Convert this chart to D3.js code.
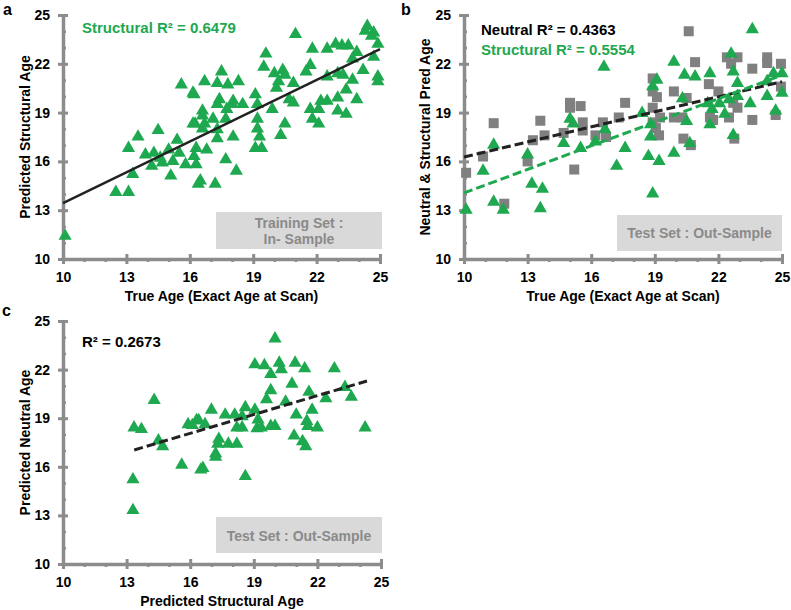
<!DOCTYPE html>
<html><head><meta charset="utf-8">
<script src="https://cdn.jsdelivr.net/npm/d3@7"></script>
<style>
body{margin:0;background:#fff;}
text{font-family:"Liberation Sans",Arial,sans-serif;font-weight:bold;}
</style></head>
<body><svg id="c" width="791" height="610"></svg>
<script>
// ---------- DATA ----------
const majorTicks = [10,13,16,19,22,25];
const minorTicks = [11,12,14,15,17,18,20,21,23,24];

// Panel a: training set (true age vs predicted structural age)
const aTrue = [10.1,12.5,13.1,13.3,14.2,14.7,15.1,15.2,15.8,16.3,16.4,15.5,13.9,14.3,16.2,13.1,13.55,14.5,15.4,15.6,16.2,16.25,15.0,14.6,
 21.0,24.4,24.7,24.3,24.6,24.9,24.7,24.9,24.9,24.2,23.7,23.9,23.5,23.2,22.9,22.5,21.8,21.7,21.5,22.5,23.0,23.25,23.7,23.4,23.9,23.0,22.5,22.2,22.1,21.7,21.8,22.1,23.0,23.4,
 19.6,19.5,20.0,20.4,20.5,20.2,20.1,20.9,20.7,20.9,19.9,19.1,19.2,19.2,18.5,18.05,17.5,16.7,17.3,17.8,18.3,16.15,17.4,17.3,18.0,17.75,16.6,16.6,17.1,17.7,16.7,16.15,16.6,17.3,17.3,18.05,19.2,19.3,20.3,20.5,19.1,19.4,16.3,16.8,17.7,18.2,16.5,17.2];
const aPred = [11.5,14.2,14.2,15.3,15.8,16.0,15.2,16.1,15.9,15.9,14.7,16.6,16.5,16.6,16.4,16.9,17.6,18.0,17.4,20.8,20.2,18.4,16.8,16.3,
 23.9,24.4,24.0,24.1,23.8,23.3,22.5,21.3,21.0,21.7,22.4,22.8,23.2,23.2,23.3,23.0,23.0,22.0,21.6,21.3,21.5,21.4,21.1,20.5,19.9,20.0,19.8,19.8,19.3,19.3,18.7,18.4,19.2,19.0,
 22.7,21.9,21.5,21.7,21.4,21.0,20.6,20.9,19.9,19.7,19.3,20.2,19.6,18.7,19.6,19.8,21.6,21.0,20.9,20.8,21.0,20.3,19.9,19.6,19.6,19.3,19.2,18.9,18.7,18.7,18.4,18.4,18.1,18.05,17.5,17.6,18.1,17.6,17.7,18.4,16.9,16.9,16.9,16.8,16.2,15.5,14.9,14.7];
const aFitX = [10,25];
const aFitY = [13.44,22.9];

// Panel b: test set, neutral (squares) and structural (triangles)
const bNeuTrue = [11.4,10.9,13.25,13.6,13.8,15.0,15.0,15.5,15.6,14.7,15.6,10.1,11.9,13.0,15.2,20.6,20.9,22.4,22.9,22.6,23.6,24.3,24.3,24.95,21.55,22.0,24.95,22.7,22.9,22.5,21.6,21.75,23.6,24.7,22.75,20.7,20.35,19.9,20.3,19.9,20.5,18.9,18.9,19.1,18.9,19.25,18.9,19.05,19.2,17.6,16.55,17.3,16.2,16.7];
const bNeuPred = [18.35,16.3,17.3,18.5,17.6,19.6,19.3,19.4,18.4,17.75,17.9,15.3,13.4,16.0,15.5,24.0,22.1,22.4,22.4,22.0,21.7,22.4,22.05,22.0,20.75,20.3,20.6,19.6,19.3,18.7,18.7,18.55,18.55,18.85,17.4,17.0,17.4,18.7,18.7,20.3,19.9,21.1,20.3,19.95,19.3,18.7,18.4,18.05,17.6,19.6,18.4,18.7,17.6,17.5];
const bStrTrue = [11.4,13.0,15.0,15.15,14.7,15.5,10.1,10.9,11.4,11.85,13.2,13.7,13.6,23.6,16.6,19.9,20.4,20.9,21.6,22.6,22.7,24.6,25.0,22.9,24.3,25.0,24.3,22.9,22.5,22.05,21.5,21.7,23.5,22.3,21.6,24.7,22.7,20.5,20.65,19.9,20.3,19.1,18.9,18.4,18.8,18.8,18.7,19.2,16.65,16.2,17.6,17.2,18.9];
const bStrPred = [17.1,16.5,18.7,18.4,17.2,16.9,13.1,15.5,13.6,13.1,14.7,14.4,13.2,24.2,21.9,22.2,21.4,21.3,21.5,22.7,21.6,21.5,21.5,20.9,21.0,20.3,20.1,20.1,19.9,19.65,19.65,19.3,19.65,19.0,18.35,19.2,17.7,18.55,17.2,16.6,19.95,21.1,20.7,19.05,18.35,17.6,16.4,16.1,18.05,17.3,16.9,15.8,14.1];
const bNeuFitX = [10,25], bNeuFitY = [16.27,20.9];
const bStrFitX = [10,25], bStrFitY = [14.06,21.3];

// Panel c: predicted structural vs predicted neutral
const cStr = [14.3,13.35,13.7,14.5,14.7,15.9,16.3,13.3,13.3,15.6,16.5,20.0,19.05,19.5,20.2,20.3,19.8,20.95,21.4,22.8,20.8,19.8,19.6,20.5,21.6,23.3,23.6,22.4,21.75,21.0,21.5,21.55,22.0,24.25,20.0,19.8,19.05,19.2,19.15,19.35,18.6,18.1,18.45,18.2,18.45,17.65,17.0,16.4,16.7,16.1,17.35,17.3,17.8,18.2,17.2,17.2,20.9,21.3,21.45,16.6,18.6];
const cNeu = [20.2,18.5,18.4,17.7,17.35,18.7,18.95,15.3,13.4,16.2,15.9,24.0,22.4,22.35,22.5,22.1,21.8,22.5,22.15,22.15,21.2,20.8,20.25,20.1,20.7,21.0,20.4,20.3,19.6,19.3,18.9,18.6,18.5,18.5,18.6,18.6,19.6,19.0,18.45,18.5,19.75,19.3,19.2,18.5,18.5,19.3,19.6,18.95,18.7,18.65,17.8,17.5,17.5,17.5,16.9,16.7,18.0,17.65,17.35,16.0,15.5];
const cFitX = [13.36,24.34], cFitY = [17.04,21.3];

// ---------- DRAW ----------
const GREEN = "#1ea84f", GRAY = "#808080", AXIS = "#8c8c8c";
const svg = d3.select("#c");
const tri = "M0,-6.2L6.6,5.2L-6.6,5.2Z";

function panel(opt){
  const x = d3.scaleLinear().domain([10,25]).range(opt.xr);
  const y = d3.scaleLinear().domain([10,25]).range(opt.yr);
  const g = svg.append("g");
  const mx = g.append("g").attr("transform",`translate(0,${opt.yr[0]})`)
    .call(d3.axisBottom(x).tickValues(minorTicks).tickSize(3).tickFormat(""));
  const my = g.append("g").attr("transform",`translate(${opt.xr[0]},0)`)
    .call(d3.axisRight(y).tickValues(minorTicks).tickSize(3).tickFormat(""));
  [mx,my].forEach(s=>{s.select(".domain").remove(); s.selectAll("line").attr("stroke",AXIS).attr("stroke-width",2.5);});
  const ax = g.append("g").attr("transform",`translate(0,${opt.yr[0]})`)
    .call(d3.axisBottom(x).tickValues(majorTicks).tickSize(5).tickSizeOuter(0).tickPadding(8));
  const ay = g.append("g").attr("transform",`translate(${opt.xr[0]},0)`)
    .call(d3.axisLeft(y).tickValues(majorTicks).tickSize(5).tickSizeOuter(0).tickPadding(8));
  ax.selectAll(".tick line").attr("y1",-5);
  ay.selectAll(".tick line").attr("x1",5);
  [ax,ay].forEach(s=>{
    s.select(".domain").attr("stroke",AXIS).attr("stroke-width",3.5);
    s.selectAll(".tick line").attr("stroke",AXIS).attr("stroke-width",3);
    s.selectAll("text").attr("fill","#000").style("font-size","14px").style("font-weight","bold")
      .style("font-family","'Liberation Sans',Arial,sans-serif");
  });
  g.append("text").attr("x",(opt.xr[0]+opt.xr[1])/2).attr("y",opt.yr[0]+42)
    .attr("text-anchor","middle").style("font-size","14px").text(opt.xTitle);
  g.append("text").attr("transform",`translate(${opt.ytx},${(opt.yr[0]+opt.yr[1])/2}) rotate(-90)`)
    .attr("text-anchor","middle").style("font-size","14px").text(opt.yTitle);
  g.append("rect").attr("x",opt.box[0]).attr("y",opt.box[1]).attr("width",opt.box[2]).attr("height",opt.box[3]).attr("fill","#d9d9d9");
  opt.boxText.forEach((t,i)=>{
    g.append("text").attr("x",opt.box[0]+opt.box[2]/2).attr("y",opt.boxTy[i]).attr("text-anchor","middle")
      .attr("fill","#8a8a8a").style("font-size","14px").text(t);
  });
  g.append("text").attr("x",opt.lab[0]).attr("y",opt.lab[1]).style("font-size","16px").text(opt.label);
  return {g,x,y};
}

function tris(p, xs, ys){
  p.g.append("g").selectAll("path").data(xs.map((v,i)=>[v,ys[i]])).join("path")
    .attr("d",tri).attr("transform",d=>`translate(${p.x(d[0])},${p.y(d[1])})`)
    .attr("fill",GREEN);
}
function squares(p, xs, ys){
  p.g.append("g").selectAll("rect").data(xs.map((v,i)=>[v,ys[i]])).join("rect")
    .attr("x",d=>p.x(d[0])-5).attr("y",d=>p.y(d[1])-5).attr("width",10).attr("height",10).attr("fill",GRAY);
}
function fit(p, xs, ys, color, dash){
  const line = d3.line().x(d=>p.x(d[0])).y(d=>p.y(d[1]));
  p.g.append("path").attr("d",line(xs.map((v,i)=>[v,ys[i]]))).attr("stroke",color)
    .attr("stroke-width",dash?3:2.5).attr("fill","none").attr("stroke-dasharray",dash||null);
}

// Panel a
const pa = panel({xr:[63,380], yr:[259,15], xTitle:"True Age (Exact Age at Scan)", yTitle:"Predicted Structural Age", ytx:30,
  box:[216,212,166,37], boxText:["Training Set :","In- Sample"], boxTy:[228,244], lab:[3,15], label:"a"});
tris(pa, aTrue, aPred);
fit(pa, aFitX, aFitY, "#222", null);
pa.g.append("text").attr("x",82).attr("y",33).attr("fill",GREEN).style("font-size","15px").text("Structural R² = 0.6479");

// Panel b
const pb = panel({xr:[464,782], yr:[259,15], xTitle:"True Age (Exact Age at Scan)", yTitle:"Neutral & Structural Pred Age", ytx:430,
  box:[617,215,165,36], boxText:["Test Set : Out-Sample"], boxTy:[238], lab:[401,15], label:"b"});
squares(pb, bNeuTrue, bNeuPred);
tris(pb, bStrTrue, bStrPred);
fit(pb, bNeuFitX, bNeuFitY, "#222", "9,4");
fit(pb, bStrFitX, bStrFitY, GREEN, "9,4");
pb.g.append("text").attr("x",481).attr("y",35).attr("fill","#000").style("font-size","15px").text("Neutral R² = 0.4363");
pb.g.append("text").attr("x",481).attr("y",55).attr("fill",GREEN).style("font-size","15px").text("Structural R² = 0.5554");

// Panel c
const pc = panel({xr:[63,381], yr:[564,321], xTitle:"Predicted Structural Age", yTitle:"Predicted Neutral Age", ytx:30,
  box:[216,517,166,36], boxText:["Test Set : Out-Sample"], boxTy:[541], lab:[2,316], label:"c"});
tris(pc, cStr, cNeu);
fit(pc, cFitX, cFitY, "#222", "9,4");
pc.g.append("text").attr("x",82).attr("y",347).attr("fill","#000").style("font-size","15px").text("R² = 0.2673");
</script></body></html>
